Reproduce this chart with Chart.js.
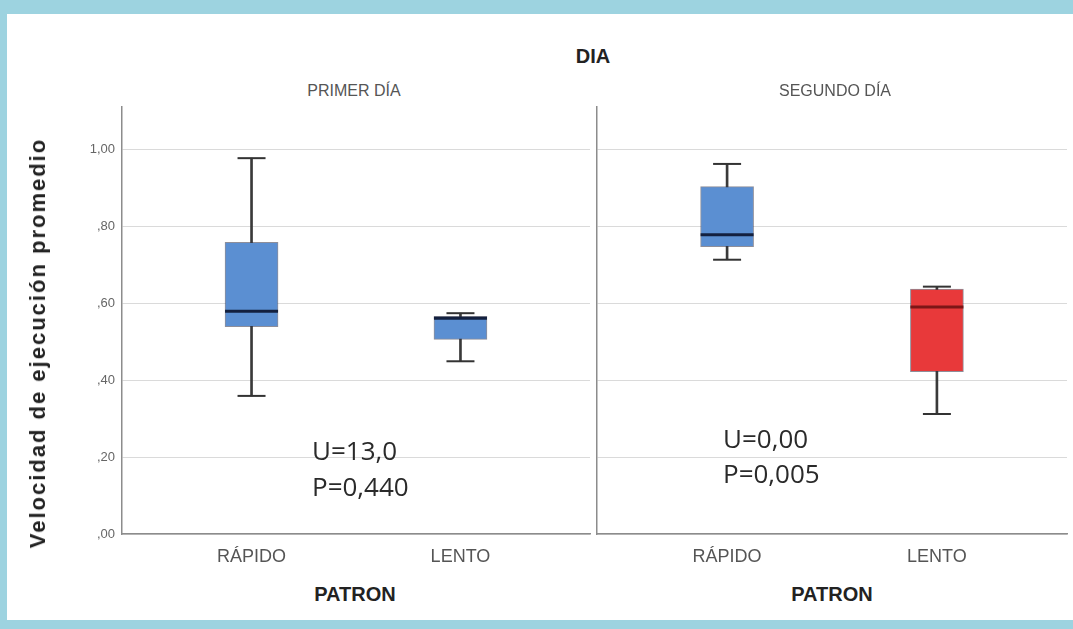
<!DOCTYPE html>
<html>
<head>
<meta charset="utf-8">
<script src="https://cdn.jsdelivr.net/npm/chart.js@4"></script>
<style>
html,body{margin:0;padding:0;width:1073px;height:629px;overflow:hidden;background:#9dd3e0;font-family:"Liberation Sans",Arial,sans-serif;}
#panel{position:absolute;left:7px;top:14px;width:1066px;height:606px;background:#fff;}
canvas{position:absolute;}
.t{position:absolute;white-space:nowrap;transform:translate(-50%,-50%);line-height:1;}
.a{position:absolute;white-space:nowrap;font-family:"Open Sans",sans-serif;font-size:26px;color:#2a2a2a;line-height:1;transform:translateY(-50%);}
</style>
</head>
<body>
<div id="panel"></div>
<div style="position:absolute;left:0;top:100px;width:596px;height:470px;"><canvas id="c1" width="596" height="470"></canvas></div>
<div style="position:absolute;left:590px;top:100px;width:483px;height:470px;"><canvas id="c2" width="483" height="470"></canvas></div>

<div class="t" style="left:593px;top:56px;font-weight:bold;font-size:20px;color:#222;">DIA</div>
<div class="t" style="left:354px;top:91px;font-size:16px;color:#555;">PRIMER DÍA</div>
<div class="t" style="left:835px;top:91px;font-size:16px;color:#555;">SEGUNDO DÍA</div>
<div class="t" style="left:355px;top:594px;font-weight:bold;font-size:20px;color:#222;">PATRON</div>
<div class="t" style="left:832px;top:594px;font-weight:bold;font-size:20px;color:#222;">PATRON</div>
<div class="t" style="left:38px;top:343px;font-weight:bold;font-size:22px;letter-spacing:2px;color:#222;transform:translate(-50%,-50%) rotate(-90deg);">Velocidad de ejecución promedio</div>

<div class="a" style="left:312px;top:450px;">U=13,0</div>
<div class="a" style="left:312px;top:486px;">P=0,440</div>
<div class="a" style="left:723px;top:438px;">U=0,00</div>
<div class="a" style="left:723px;top:473px;">P=0,005</div>

<script>
const categories = ['RÁPIDO', 'LENTO'];
const yTickValues = [0, 0.2, 0.4, 0.6, 0.8, 1.0];

// PRIMER DÍA
const primerMin = [0.359, 0.449];
const primerQ1  = [0.539, 0.506];
const primerMed = [0.579, 0.561];
const primerQ3  = [0.758, 0.566];
const primerMax = [0.977, 0.574];

// SEGUNDO DÍA
const segundoMin = [0.713, 0.312];
const segundoQ1  = [0.747, 0.422];
const segundoMed = [0.778, 0.590];
const segundoQ3  = [0.903, 0.637];
const segundoMax = [0.962, 0.643];

const BLUE = '#5b8fd2', RED = '#e8393a';
const MED_BLUE = '#13203f', MED_RED = '#7d1616';
const primerColors = [BLUE, BLUE];
const segundoColors = [BLUE, RED];
const primerMedColors = [MED_BLUE, MED_BLUE];
const segundoMedColors = [MED_BLUE, MED_RED];

function fmt(v){
  let s = v.toFixed(2).replace('.', ',');
  if (s.startsWith('0')) s = s.slice(1);
  return s;
}

function buildConfig(mn, q1, md, q3, mx, colors, medColors, showY){
  const idx = categories.map((c,i)=>i);
  return {
    type: 'bar',
    data: {
      datasets: [
        { type:'scatter', order:0, data: idx.map(i=>({x:i,y:md[i]})),
          pointStyle:'line', pointRadius:26.5, pointHoverRadius:26.5, pointBorderWidth:3, pointHoverBorderWidth:3,
          pointBorderColor: medColors, pointBackgroundColor: medColors },
        { type:'scatter', order:0, data: idx.map(i=>({x:i,y:mx[i]})).concat(idx.map(i=>({x:i,y:mn[i]}))),
          pointStyle:'line', pointRadius:14, pointHoverRadius:14, pointBorderWidth:2, pointHoverBorderWidth:2,
          pointBorderColor:'#333', pointBackgroundColor:'#333' },
        { type:'bar', order:1, grouped:false, data: idx.map(i=>({x:i,y:[q1[i],q3[i]]})),
          backgroundColor: colors, borderColor:'rgba(50,50,70,0.55)', borderWidth:1, borderSkipped:false, barThickness:53 },
        { type:'bar', order:2, grouped:false, data: idx.map(i=>({x:i,y:[mn[i],mx[i]]})),
          backgroundColor:'#3a3a3a', borderWidth:0, barThickness:2 }
      ]
    },
    options: {
      responsive:false, animation:false,
      layout:{ autoPadding:false, padding:{ top:7, right:6, left:0, bottom:0 } },
      plugins:{ legend:{display:false}, tooltip:{enabled:false}, title:{display:false} },
      scales:{
        x:{ type:'linear', min:-0.62, max:1.62, offset:false,
            afterBuildTicks:(s)=>{ s.ticks = idx.map(i=>({value:i})); },
            afterFit:(s)=>{ s.height = 36; s.paddingLeft = 0; s.paddingRight = 0; },
            grid:{ display:false, drawTicks:false },
            border:{ display:true, color:'#8c8c8c', width:1.5 },
            ticks:{ padding:12, color:'#555', font:{ family:'"Liberation Sans", Arial, sans-serif', size:18 },
                    callback:(v)=>categories[v] ?? '', autoSkip:false, maxRotation:0 } },
        y:{ type:'linear', min:0, max:1.11,
            afterBuildTicks:(s)=>{ s.ticks = yTickValues.map(v=>({value:v})); },
            afterFit:(s)=>{ s.width = showY ? 122 : 7; s.paddingTop = 0; s.paddingBottom = 0; },
            grid:{ color:'#dadada', lineWidth:1, drawTicks:false },
            border:{ display:true, color:'#8c8c8c', width:1.5 },
            ticks:{ display:showY, padding:7, color:'#666', font:{ family:'"Liberation Sans", Arial, sans-serif', size:13 },
                    callback:(v)=>fmt(v) } }
      }
    }
  };
}

new Chart(document.getElementById('c1'), buildConfig(primerMin, primerQ1, primerMed, primerQ3, primerMax, primerColors, primerMedColors, true));
new Chart(document.getElementById('c2'), buildConfig(segundoMin, segundoQ1, segundoMed, segundoQ3, segundoMax, segundoColors, segundoMedColors, false));
</script>
</body>
</html>
